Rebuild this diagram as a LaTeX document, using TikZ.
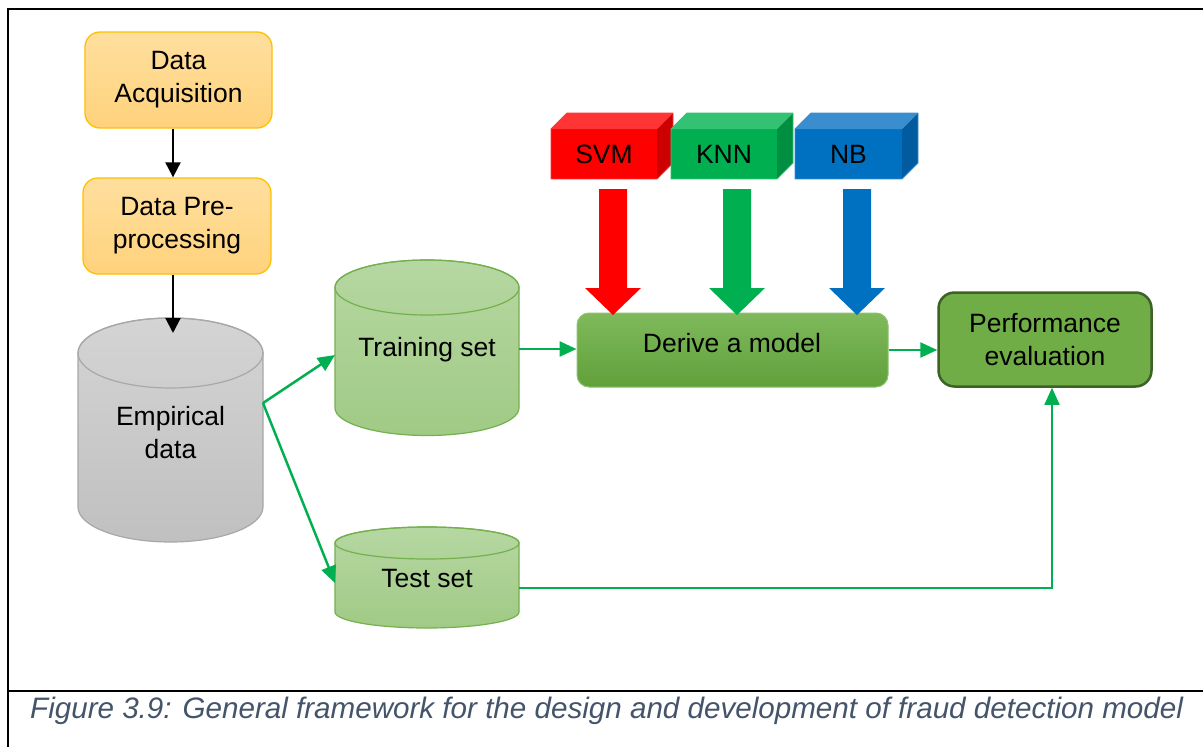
\documentclass[tikz,border=0pt]{standalone}
\usepackage{fontspec}
\setmainfont{Liberation Sans}
\usetikzlibrary{arrows.meta,calc}
\definecolor{orTop}{HTML}{FFDF9E}
\definecolor{orBot}{HTML}{FFD27C}
\definecolor{orLine}{HTML}{FFC000}
\definecolor{grTop}{HTML}{D4D4D4}
\definecolor{grBot}{HTML}{C0C0C0}
\definecolor{grLine}{HTML}{A8A8A8}
\definecolor{cyTop}{HTML}{B6D7A2}
\definecolor{cyBot}{HTML}{A0CA85}
\definecolor{cyLine}{HTML}{74B04D}
\definecolor{dvTop}{HTML}{7FB95C}
\definecolor{dvBot}{HTML}{60A03A}
\definecolor{dvLine}{HTML}{8DC36F}
\definecolor{pfFill}{HTML}{70AD47}
\definecolor{pfLine}{HTML}{3D6127}
\definecolor{arGreen}{HTML}{00B050}
\definecolor{capCol}{HTML}{44546A}
\definecolor{svmF}{HTML}{FF0000}
\definecolor{svmT}{HTML}{FF3535}
\definecolor{svmS}{HTML}{CC0000}
\definecolor{knnF}{HTML}{00B050}
\definecolor{knnT}{HTML}{33C274}
\definecolor{knnS}{HTML}{008E40}
\definecolor{nbF}{HTML}{0070C0}
\definecolor{nbT}{HTML}{3A8ECF}
\definecolor{nbS}{HTML}{005C9E}
\newcommand{\mycyl}[6]{% cx, rx, topc, botc, ry, colour prefix
  \path[draw=#6Line, line width=1.2, top color=#6Top, bottom color=#6Bot]
    (#1-#2,#3) -- (#1-#2,#4) arc(180:0:#2 and #5) -- (#1+#2,#3) arc(0:-180:#2 and #5) -- cycle;
  \draw[draw=#6Line, line width=1.2] (#1,#3) ellipse (#2 and #5);
}
\newcommand{\mybox}[6]{% x1, x2, front, top, side, name/text
  \fill[#3] (#1,129) rectangle (#2,179);
  \fill[#4] (#1,129) -- (#1+16,113) -- (#2+16,113) -- (#2,129) -- cycle;
  \fill[#5] (#2,129) -- (#2+16,113) -- (#2+16,163) -- (#2,179) -- cycle;
  \draw[#4, line width=0.8] (#1,179) -- (#1,129) -- (#1+16,113) -- (#2+16,113) -- (#2+16,163) -- (#2,179) -- cycle;
}
\newcommand{\myblock}[2]{% cx, colour
  \fill[#2] (#1-14,189) -- (#1+14,189) -- (#1+14,288) -- (#1+28,288) -- (#1,315) -- (#1-28,288) -- (#1-14,288) -- cycle;
}
\begin{document}
\begin{tikzpicture}[x=1pt,y=-1pt,
  lbl/.style={font=\fontsize{26.5}{33}\selectfont, text=black, align=center, inner sep=0pt},
  obox/.style={draw=orLine, line width=1.3, rounded corners=15, top color=orTop, bottom color=orBot, lbl},
  blk/.style={line width=2, -{Triangle[width=15,length=15]}},
  grn/.style={draw=arGreen, line width=2.5, -{Triangle[width=15,length=17]}},
  grnthin/.style={draw=arGreen, line width=1.6, -{Triangle[width=15,length=17]}}]
\useasboundingbox (0,0) rectangle (1203,747);
\fill[white] (0,0) rectangle (1203,747);
% frame
\draw[line width=2.5] (7,9) -- (1203,9);
\draw[line width=2] (8,8) -- (8,747);
\draw[line width=1.5] (8,691) -- (1203,691);
% orange boxes
\node[obox, minimum width=187, minimum height=96] (acq) at (178.5,80) {Data\\Acquisition};
\node[obox, minimum width=188, minimum height=96] (pre) at (177,226) {Data Pre-\\processing};
% cylinders
\mycyl{170.5}{92.5}{353}{507}{35}{gr}
\mycyl{427}{92}{287.5}{408}{27.5}{cy}
\mycyl{427}{92}{543}{612}{16}{cy}
\node[lbl, minimum width=185, minimum height=224] (emp) at (170.5,433) {Empirical\\data};
\node[lbl] (train) at (427,350) {Training set};
\node[lbl] (test) at (427,579) {Test set};
\coordinate (empT) at (173,333);
\coordinate (empR) at (263,403);
\coordinate (trainL) at (335,355);
\coordinate (trainR) at (519,349);
\coordinate (testL) at (335,583);
\coordinate (testR) at (519,588);
% derive and performance
\node[draw=dvLine, line width=1, rounded corners=12, top color=dvTop, bottom color=dvBot,
      minimum width=311, minimum height=74] (derive) at (732.5,350) {};
\node[lbl] (dlabel) at (732,343) {Derive a model};
\node[draw=pfLine, line width=2.5, rounded corners=16, fill=pfFill, lbl,
      minimum width=213, minimum height=94] (perf) at (1045,339.5) {Performance\\evaluation};
% 3D classifier boxes
\mybox{551}{657}{svmF}{svmT}{svmS}{svm}
\mybox{671}{777}{knnF}{knnT}{knnS}{knn}
\mybox{795}{902}{nbF}{nbT}{nbS}{nb}
\node[lbl] (svm) at (604,154) {SVM};
\node[lbl] (knn) at (724,154) {KNN};
\node[lbl] (nb) at (848.5,154) {NB};
% block arrows
\myblock{613}{svmF}
\myblock{737}{knnF}
\myblock{857}{nbF}
% connectors
\draw[blk] (empT |- acq.south) -- (empT |- pre.north);
\draw[blk] (empT |- pre.south) -- (empT);
\draw[grn] (empR) -- (trainL);
\draw[grn] (empR) -- (testL);
\draw[grn] (trainR) -- (trainR -| derive.west);
\draw[grn] (derive.east) -- (derive.east -| perf.west);
\draw[grnthin] (testR) -| ($(perf.south)+(7,0)$);
% caption
\node[anchor=west, inner sep=0pt, text=capCol, font=\fontsize{29.6}{34}\selectfont\itshape] (cap) at (30,711)
  {Figure 3.9: General framework for the design and development of fraud detection model};
\end{tikzpicture}
\end{document}
